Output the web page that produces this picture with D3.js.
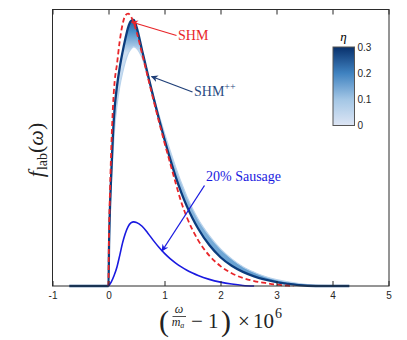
<!DOCTYPE html>
<html><head><meta charset="utf-8">
<script src="https://cdn.jsdelivr.net/npm/d3@7"></script>
<style>
body{margin:0;background:#fff;}
svg{display:block;}
</style></head>
<body>
<svg id="chart" width="407" height="340"></svg>
<script>
// ---- data ----
const xTicks = [-1, 0, 1, 2, 3, 4, 5];
const etaTicks = [0, 0.1, 0.2, 0.3];

// SHM++ band, common x grid
const gridX = [-0.7, 0, 0.01, 0.02, 0.05, 0.08, 0.11, 0.15, 0.2, 0.25, 0.3, 0.35, 0.4, 0.45, 0.5, 0.6, 0.7, 0.8, 0.9, 1.0, 1.1, 1.2, 1.3, 1.4, 1.5, 1.6, 1.8, 2.0, 2.2, 2.4, 2.6, 2.8, 3.0, 3.2, 3.4, 3.7, 4.0, 4.3];
const shmPPeta0 = [0, 0, 0.13, 0.21, 0.36, 0.48, 0.57, 0.65, 0.72, 0.77, 0.81, 0.84, 0.857, 0.865, 0.86, 0.825, 0.762, 0.69, 0.62, 0.553, 0.49, 0.43, 0.374, 0.324, 0.28, 0.242, 0.182, 0.134, 0.098, 0.07, 0.05, 0.034, 0.023, 0.015, 0.009, 0.003, 0.001, 0];
const shmPPeta3 = [0, 0, 0.15, 0.24, 0.41, 0.55, 0.645, 0.72, 0.79, 0.845, 0.893, 0.935, 0.958, 0.962, 0.937, 0.852, 0.767, 0.684, 0.605, 0.53, 0.46, 0.395, 0.338, 0.288, 0.245, 0.208, 0.148, 0.104, 0.073, 0.051, 0.035, 0.023, 0.014, 0.008, 0.003, 0, 0, 0];

// SHM (dashed)
const shmX = [0, 0.005, 0.01, 0.02, 0.05, 0.08, 0.11, 0.15, 0.2, 0.25, 0.3, 0.35, 0.4, 0.5, 0.6, 0.7, 0.8, 0.9, 1.0, 1.1, 1.2, 1.3, 1.4, 1.5, 1.6, 1.8, 2.0, 2.2, 2.4, 2.6, 2.8, 3.0, 3.2, 3.3];
const shmY = [0, 0.12, 0.2, 0.29, 0.5, 0.65, 0.74, 0.8, 0.885, 0.945, 0.978, 0.985, 0.975, 0.92, 0.84, 0.757, 0.675, 0.595, 0.518, 0.445, 0.372, 0.303, 0.248, 0.203, 0.166, 0.11, 0.072, 0.046, 0.029, 0.018, 0.011, 0.005, 0.001, 0];

// 20% Sausage
const sausX = [0, 0.05, 0.1, 0.15, 0.2, 0.25, 0.3, 0.35, 0.4, 0.45, 0.5, 0.6, 0.7, 0.8, 0.9, 1.0, 1.1, 1.2, 1.3, 1.4, 1.5, 1.6, 1.8, 2.0, 2.2, 2.4, 2.6];
const sausY = [0, 0.015, 0.038, 0.068, 0.11, 0.155, 0.19, 0.215, 0.228, 0.232, 0.23, 0.216, 0.192, 0.165, 0.14, 0.118, 0.099, 0.083, 0.069, 0.057, 0.047, 0.038, 0.024, 0.014, 0.007, 0.002, 0];

// ---- drawing ----
const svg = d3.select("#chart");
const L = 52.5, R = 388.5, T = 9.5, B = 286;
const x = d3.scaleLinear().domain([-1, 5]).range([L, R]);
const y = d3.scaleLinear().domain([0, 1]).range([B, T]);
const etaColor = d3.scaleLinear().domain([0, 0.1, 0.2, 0.3]).range(["#dde5f4", "#a3c6e5", "#3f82c0", "#08306b"]);

const defs = svg.append("defs");
const bandGrad = defs.append("linearGradient").attr("id", "bandGrad")
  .attr("gradientUnits", "userSpaceOnUse").attr("x1", 0).attr("x2", 0).attr("y1", 15).attr("y2", 286);
[[0, "#0d4a8f"], [0.06, "#4a8ec8"], [0.14, "#cfe0f2"], [0.5, "#a9cbe8"], [1, "#5e9bcf"]]
  .forEach(s => bandGrad.append("stop").attr("offset", s[0]).attr("stop-color", s[1]));

const cbGrad = defs.append("linearGradient").attr("id", "cbGrad")
  .attr("x1", 0).attr("x2", 0).attr("y1", 1).attr("y2", 0);
d3.range(0, 0.3001, 0.05).forEach(v => cbGrad.append("stop").attr("offset", v / 0.3).attr("stop-color", etaColor(v)));

function markerDef(id, color) {
  defs.append("marker").attr("id", id).attr("viewBox", "0 0 10 10")
    .attr("refX", 9).attr("refY", 5).attr("markerWidth", 7).attr("markerHeight", 7)
    .attr("markerUnits", "userSpaceOnUse").attr("orient", "auto")
    .append("path").attr("d", "M0,0 L10,5 L0,10 L3,5 Z").attr("fill", color);
}
markerDef("arRed", "#e8262a");
markerDef("arNavy", "#1f3f78");
markerDef("arBlue", "#1a1ae0");

// band
const band = gridX.map((v, i) => ({x: v, a: shmPPeta0[i], b: shmPPeta3[i]}));
const area = d3.area().x(d => x(d.x)).y0(d => y(d.a)).y1(d => y(d.b)).curve(d3.curveMonotoneX);
svg.append("path").datum(band).attr("d", area).attr("fill", "url(#bandGrad)");

const lineA = d3.line().x(d => x(d.x)).y(d => y(d.a)).curve(d3.curveMonotoneX);
const lineB = d3.line().x(d => x(d.x)).y(d => y(d.b)).curve(d3.curveMonotoneX);
svg.append("path").datum(band).attr("d", lineA).attr("fill", "none").attr("stroke", "#b9d3ec").attr("stroke-width", 1.2);
svg.append("path").datum(band).attr("d", lineB).attr("fill", "none").attr("stroke", "#0b3c7d").attr("stroke-width", 2.3);

// SHM dashed
const line = d3.line().x(d => x(d[0])).y(d => y(d[1])).curve(d3.curveMonotoneX);
svg.append("path").datum(shmX.map((v, i) => [v, shmY[i]])).attr("d", line)
  .attr("fill", "none").attr("stroke", "#e8262a").attr("stroke-width", 1.8).attr("stroke-dasharray", "5,3");

// Sausage
svg.append("path").datum(sausX.map((v, i) => [v, sausY[i]])).attr("d", line)
  .attr("fill", "none").attr("stroke", "#1a1ae0").attr("stroke-width", 1.6);

// axes
const sans = "'Liberation Sans', Arial, sans-serif";
const axB = svg.append("g").attr("transform", `translate(0,${B})`)
  .call(d3.axisBottom(x).tickValues(xTicks).tickSize(-5).tickPadding(6).tickFormat(d => String(d)));
axB.select(".domain").remove();
axB.selectAll("line").attr("stroke", "#262626");
axB.selectAll("text").attr("font-family", sans).attr("font-size", 10).attr("fill", "#262626");
const axT = svg.append("g").attr("transform", `translate(0,${T})`)
  .call(d3.axisTop(x).tickValues(xTicks).tickSize(-5).tickFormat(""));
axT.select(".domain").remove();
axT.selectAll("line").attr("stroke", "#262626");

// frame
svg.append("rect").attr("x", L).attr("y", T).attr("width", R - L + 0.5).attr("height", B - T)
  .attr("fill", "none").attr("stroke", "#2b2b2b").attr("stroke-width", 1);

// colorbar
const cy = d3.scaleLinear().domain([0, 0.3]).range([125.5, 47]);
svg.append("rect").attr("x", 333).attr("y", cy(0.3)).attr("width", 21.5).attr("height", cy(0) - cy(0.3))
  .attr("fill", "url(#cbGrad)").attr("stroke", "#555").attr("stroke-width", 1);
const cax = svg.append("g").attr("transform", "translate(354.5,0)")
  .call(d3.axisRight(cy).tickValues(etaTicks).tickSize(0).tickPadding(3).tickFormat(d => d === 0 ? "0" : d3.format(".1f")(d)));
cax.select(".domain").remove();
cax.selectAll("text").attr("font-family", sans).attr("font-size", 10).attr("fill", "#262626");
svg.append("text").attr("x", 343.5).attr("y", 41).attr("text-anchor", "middle")
  .attr("font-family", "'Liberation Serif', serif").attr("font-style", "italic").attr("font-size", 13).text("η");

// annotations
const serif = "'Liberation Serif', 'DejaVu Serif', serif";
svg.append("line").attr("x1", 176.5).attr("y1", 35.5).attr("x2", 131.5).attr("y2", 22)
  .attr("stroke", "#e8262a").attr("stroke-width", 1.3).attr("marker-end", "url(#arRed)");
svg.append("text").attr("x", 178).attr("y", 40).attr("font-family", serif).attr("font-size", 14).attr("fill", "#e8262a").text("SHM");

svg.append("line").attr("x1", 192.5).attr("y1", 92).attr("x2", 151.5).attr("y2", 76.5)
  .attr("stroke", "#1f3f78").attr("stroke-width", 1.3).attr("marker-end", "url(#arNavy)");
const t2 = svg.append("text").attr("x", 194).attr("y", 96).attr("font-family", serif).attr("font-size", 14).attr("fill", "#2a4a82");
t2.append("tspan").text("SHM");
t2.append("tspan").attr("font-size", 10).attr("dy", -6).text("++");

svg.append("line").attr("x1", 204.5).attr("y1", 185.5).attr("x2", 162).attr("y2", 251)
  .attr("stroke", "#1a1ae0").attr("stroke-width", 1.3).attr("marker-end", "url(#arBlue)");
svg.append("text").attr("x", 206).attr("y", 181).attr("font-family", serif).attr("font-size", 14).attr("fill", "#1a1ae0").text("20% Sausage");

// y label
const yl = svg.append("text").attr("transform", "translate(43,150) rotate(-90)").attr("text-anchor", "middle")
  .attr("font-family", serif).attr("font-size", 22).attr("fill", "#222");
yl.append("tspan").attr("font-style", "italic").text("f");
yl.append("tspan").attr("font-size", 14).attr("dy", 4).attr("dx", 1).text("lab");
yl.append("tspan").attr("dy", -4).text("(");
yl.append("tspan").attr("font-style", "italic").text("ω");
yl.append("tspan").text(")");

// x label
const xl = svg.append("g").attr("font-family", serif).attr("fill", "#222");
xl.append("text").attr("x", 159).attr("y", 331).attr("font-size", 30).text("(");
xl.append("text").attr("x", 179).attr("y", 313).attr("font-size", 12).attr("font-style", "italic").attr("text-anchor", "middle").text("ω");
xl.append("line").attr("x1", 172.5).attr("x2", 186).attr("y1", 316.5).attr("y2", 316.5).attr("stroke", "#222").attr("stroke-width", 0.8);
const ma = xl.append("text").attr("x", 178).attr("y", 326).attr("font-size", 12).attr("font-style", "italic").attr("text-anchor", "middle");
ma.append("tspan").text("m");
ma.append("tspan").attr("font-size", 8).attr("dy", 2).text("a");
xl.append("text").attr("x", 191).attr("y", 328).attr("font-size", 21).text("−");
xl.append("text").attr("x", 208).attr("y", 328).attr("font-size", 21).text("1");
xl.append("text").attr("x", 221).attr("y", 331).attr("font-size", 30).text(")");
xl.append("text").attr("x", 238).attr("y", 328).attr("font-size", 21).text("×");
xl.append("text").attr("x", 253).attr("y", 328).attr("font-size", 21).text("10");
xl.append("text").attr("x", 275).attr("y", 318).attr("font-size", 14).text("6");
</script>
</body></html>
